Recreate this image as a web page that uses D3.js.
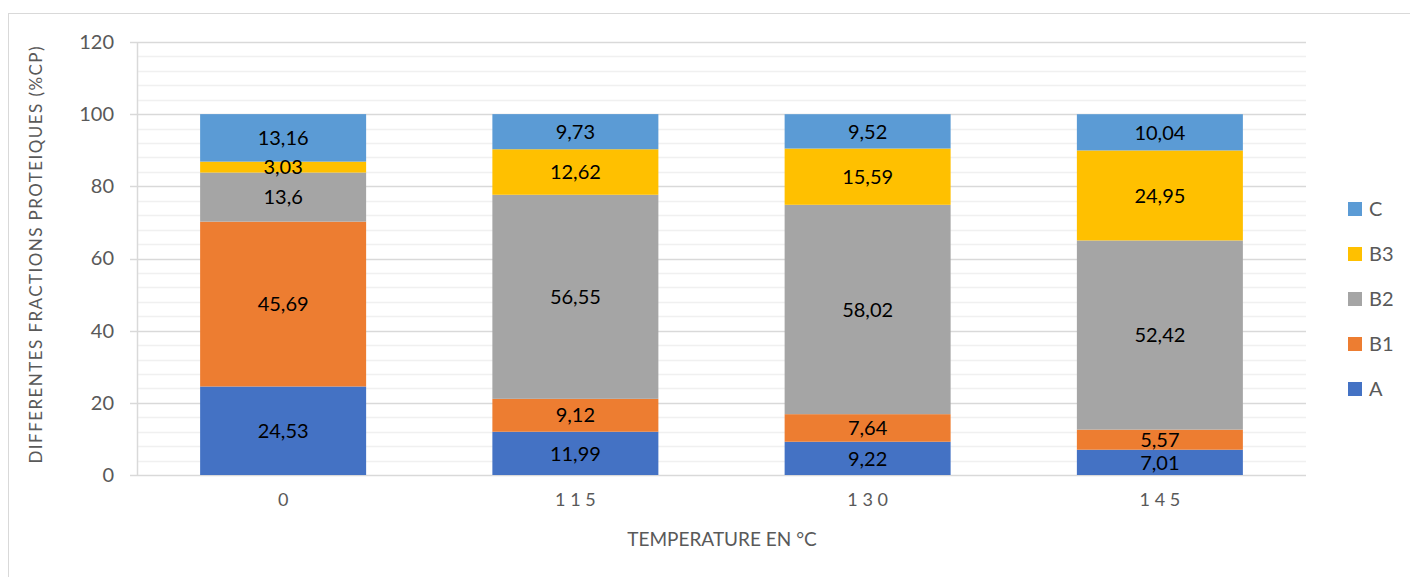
<!DOCTYPE html>
<html>
<head>
<meta charset="utf-8">
<script src="https://cdn.jsdelivr.net/npm/d3@7"></script>
<style>
  html, body { margin: 0; padding: 0; background: #fff; }
  svg { display: block; font-family: Lato, "Open Sans", sans-serif; }
</style>
</head>
<body>
<svg id="chart" width="1410" height="577"></svg>
<script>
// Protein fractions (% of crude protein) by treatment temperature
const temperatures = ["0", "115", "130", "145"];
const tickLabels = ["0", "1 1 5", "1 3 0", "1 4 5"];
const seriesNames = ["A", "B1", "B2", "B3", "C"];
const valuesA  = [24.53, 11.99, 9.22, 7.01];
const valuesB1 = [45.69, 9.12, 7.64, 5.57];
const valuesB2 = [13.6, 56.55, 58.02, 52.42];
const valuesB3 = [3.03, 12.62, 15.59, 24.95];
const valuesC  = [13.16, 9.73, 9.52, 10.04];
const colors = ["#4472C4", "#ED7D31", "#A5A5A5", "#FFC000", "#5B9BD5"];
const yTicks = [0, 20, 40, 60, 80, 100, 120];

const rows = temperatures.map((t, i) => ({
  t, A: valuesA[i], B1: valuesB1[i], B2: valuesB2[i], B3: valuesB3[i], C: valuesC[i]
}));

const svg = d3.select("#chart");
const plot = { left: 137, right: 1306, top: 42, bottom: 475 };

// outer chart frame
svg.append("rect")
  .attr("x", 8.5).attr("y", 13.5)
  .attr("width", 1420).attr("height", 600)
  .attr("fill", "none").attr("stroke", "#d9d9d9").attr("stroke-width", 1);

const x = d3.scaleBand()
  .domain(temperatures)
  .range([plot.left, plot.right])
  .paddingInner(0.432)
  .paddingOuter(0.216);

const y = d3.scaleLinear().domain([0, 120]).range([plot.bottom, plot.top]);

// minor gridlines every 4 units
const minor = d3.range(4, 120, 4).filter(v => v % 20 !== 0);
svg.append("g").selectAll("line").data(minor).join("line")
  .attr("x1", plot.left).attr("x2", plot.right)
  .attr("y1", d => Math.round(y(d)) + 0.5).attr("y2", d => Math.round(y(d)) + 0.5)
  .attr("stroke", "#f0f0f0").attr("stroke-width", 1.5);

// major gridlines with short ticks to the left of the axis
svg.append("g").selectAll("line").data(yTicks).join("line")
  .attr("x1", plot.left - 7).attr("x2", plot.right)
  .attr("y1", d => Math.round(y(d)) + 0.5).attr("y2", d => Math.round(y(d)) + 0.5)
  .attr("stroke", "#d9d9d9").attr("stroke-width", 1.5);

// vertical axis line
svg.append("line")
  .attr("x1", plot.left + 0.5).attr("x2", plot.left + 0.5)
  .attr("y1", plot.top).attr("y2", plot.bottom)
  .attr("stroke", "#d9d9d9").attr("stroke-width", 1.5);

// y tick labels
const yAxis = d3.axisLeft(y).tickValues(yTicks).tickSize(0).tickPadding(23);
const yg = svg.append("g").attr("transform", `translate(${plot.left},0)`).call(yAxis);
yg.select(".domain").remove();
yg.selectAll("text")
  .attr("font-family", "Lato, sans-serif")
  .attr("font-size", 20).attr("fill", "#595959");

// stacked bars
const stack = d3.stack().keys(seriesNames);
const layers = stack(rows);

const g = svg.append("g");
layers.forEach((layer, li) => {
  g.append("g").selectAll("rect").data(layer).join("rect")
    .attr("x", d => x(d.data.t))
    .attr("width", x.bandwidth())
    .attr("y", d => y(d[1]))
    .attr("height", d => y(d[0]) - y(d[1]))
    .attr("fill", colors[li]);
});

// value labels centred in each segment
layers.forEach((layer, li) => {
  g.append("g").selectAll("text").data(layer).join("text")
    .attr("x", d => x(d.data.t) + x.bandwidth() / 2)
    .attr("y", d => y((d[0] + d[1]) / 2))
    .attr("dy", "0.36em")
    .attr("text-anchor", "middle")
    .attr("font-size", 20)
    .attr("fill", "#000")
    .text(d => String(d.data[layer.key]).replace(".", ","));
});

// x tick labels
const xAxis = d3.axisBottom(x).tickSize(0).tickPadding(18)
  .tickFormat((d, i) => tickLabels[i]);
const xg = svg.append("g").attr("transform", `translate(0,${plot.bottom})`).call(xAxis);
xg.select(".domain").remove();
xg.selectAll("text")
  .attr("font-family", "Lato, sans-serif")
  .attr("font-size", 18).attr("fill", "#595959")
  .style("white-space", "pre").attr("xml:space", "preserve");

// axis titles
svg.append("text")
  .attr("x", 722).attr("y", 546)
  .attr("text-anchor", "middle")
  .attr("font-size", 19).attr("fill", "#595959")
  .text("TEMPERATURE EN °C");

svg.append("text")
  .attr("transform", "translate(42,255) rotate(-90)")
  .attr("text-anchor", "middle")
  .attr("font-size", 17).attr("fill", "#595959")
  .attr("textLength", 417).attr("lengthAdjust", "spacing")
  .text("DIFFERENTES FRACTIONS PROTEIQUES (%CP)");

// legend, top entry is the top segment
const legendOrder = seriesNames.map((n, i) => ({ n, c: colors[i] })).reverse();
const lg = svg.append("g").selectAll("g").data(legendOrder).join("g")
  .attr("transform", (d, i) => `translate(1348,${209 + i * 45})`);
lg.append("rect")
  .attr("x", 0).attr("y", -7).attr("width", 14).attr("height", 14)
  .attr("fill", d => d.c);
lg.append("text")
  .attr("x", 21).attr("y", 0).attr("dy", "0.36em")
  .attr("font-size", 20).attr("fill", "#595959")
  .text(d => d.n);
</script>
</body>
</html>
